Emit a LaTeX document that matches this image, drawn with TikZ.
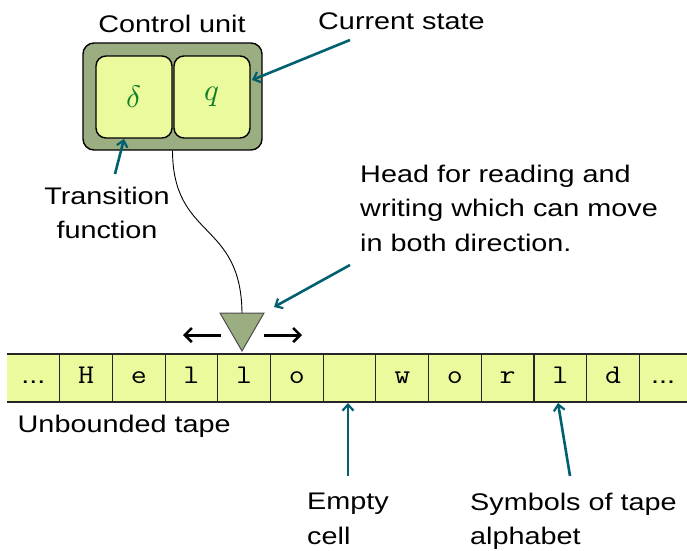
\documentclass[tikz,border=0pt]{standalone}
\usepackage{fontspec}
\usepackage{unicode-math}
\setmainfont{Liberation Sans}[FakeStretch=1.2]
\newfontfamily\tapefont{Latin Modern Mono}[FakeStretch=1.15]
\setmathfont{Latin Modern Math}
\usetikzlibrary{arrows.meta}

\definecolor{unitfill}{RGB}{155,174,130}
\definecolor{cellfill}{RGB}{236,250,158}
\definecolor{pointer}{RGB}{0,96,112}
\definecolor{symcol}{RGB}{16,128,40}

% ellipsis shown in the open ends of the tape
\newcommand{\tapedots}{{\normalfont\fontsize{24}{24}\selectfont ...}}

\begin{document}
\begin{tikzpicture}[x=1pt,y=-1pt,
  lbl/.style={font=\fontsize{24}{34.5}\selectfont, inner sep=0pt},
  unitbox/.style={draw=black, line width=1.4pt, fill=unitfill, rounded corners=11pt,
    minimum width=179pt, minimum height=107pt, inner sep=0pt},
  regbox/.style={draw=black, line width=1.4pt, fill=cellfill, rounded corners=10pt,
    minimum width=76pt, minimum height=82pt, inner sep=0pt,
    font=\fontsize{31}{31}\selectfont, text=symcol},
  cellbox/.style={minimum width=52.7pt, minimum height=48pt, inner sep=0pt,
    text height=18pt, text depth=8pt, font=\tapefont\fontsize{27}{27}\selectfont},
  pointerarrow/.style={draw=pointer, line width=2.6pt,
    -{Straight Barb[length=6pt,width=11pt,line width=2.2pt]}},
  movearrow/.style={draw=black, line width=3pt,
    -{Straight Barb[length=7pt,width=14pt,line width=2.6pt]}},
  tapeline/.style={draw=black!85, line width=1.3pt}
]
\useasboundingbox (0,0) rectangle (687,550);

% control unit with its two registers
\node[unitbox] (cu) at (172.5,96.5) {};
\node[regbox] (delta) at (134,97) {$\delta$};
\node[regbox] (state) at (212,97) {$q$};

% tape
\fill[cellfill] (7,354) rectangle (687,402);
\draw[tapeline] (7,354) -- (687,354);
\draw[tapeline] (7,402) -- (687,402);
\foreach \k in {1,2,3,4,5,6,7,8,9,10,11,12}
  \draw[tapeline, line width=1.1pt] ({7+52.7*\k},354) -- ({7+52.7*\k},402);
\foreach \s [count=\i from 0] in {\tapedots,H,e,l,l,o,{},w,o,r,l,d}
  \node[cellbox] (cell\i) at ({7+52.7*(\i+0.5)},378) {\s};
\node[cellbox] (cell12) at (663,378) {\tapedots};

% read/write head
\coordinate (headtop) at (242,313);
\coordinate (headL) at (221,335);
\coordinate (headR) at (264,335);
\coordinate (moveL) at (183,335);
\coordinate (moveR) at (302,335);
\coordinate (headcorner) at (274,307);
\filldraw[fill=unitfill, draw=black!70, line width=1pt] (220,313) -- (264,313) -- (242,351) -- cycle;
\draw[black, line width=0.9pt] (cu.south) .. controls (173,240) and (241,220) .. (headtop);
\draw[movearrow] (headL) -- (moveL);
\draw[movearrow] (headR) -- (moveR);

% labels
\node[lbl, anchor=base] (cutitle) at (172,32) {Control unit};
\node[lbl, anchor=base west] (curstate) at (318,29) {Current state};
\node[lbl, anchor=north, align=center] (trans) at (107,186.5) {Transition\\function};
\node[lbl, anchor=north west, align=left] (headtxt) at (360,164.5)
  {Head for reading and\\writing which can move\\in both direction.};
\node[lbl, anchor=base west] (tapetxt) at (17.5,432) {Unbounded tape};
\node[lbl, anchor=north west, align=left] (emptytxt) at (307,493) {Empty\\cell};
\node[lbl, anchor=north west, align=left] (symtxt) at (470,492.5) {Symbols of tape\\alphabet};

% pointers from the labels
\coordinate (curfrom) at (350,40);
\coordinate (curto) at (252,80);
\coordinate (transfrom) at (115,174);
\coordinate (transto) at (124,139);
\coordinate (headfrom) at (350,265);
\coordinate (emptyfrom) at (348,476);
\coordinate (emptyto) at (348,403);
\coordinate (symfrom) at (570,476);
\coordinate (symto) at (558,403);
\draw[pointerarrow] (curfrom) -- (curto);
\draw[pointerarrow] (transfrom) -- (transto);
\draw[pointerarrow] (headfrom) -- (headcorner);
\draw[pointerarrow] (emptyfrom) -- (emptyto);
\draw[pointerarrow] (symfrom) -- (symto);
\end{tikzpicture}
\end{document}
